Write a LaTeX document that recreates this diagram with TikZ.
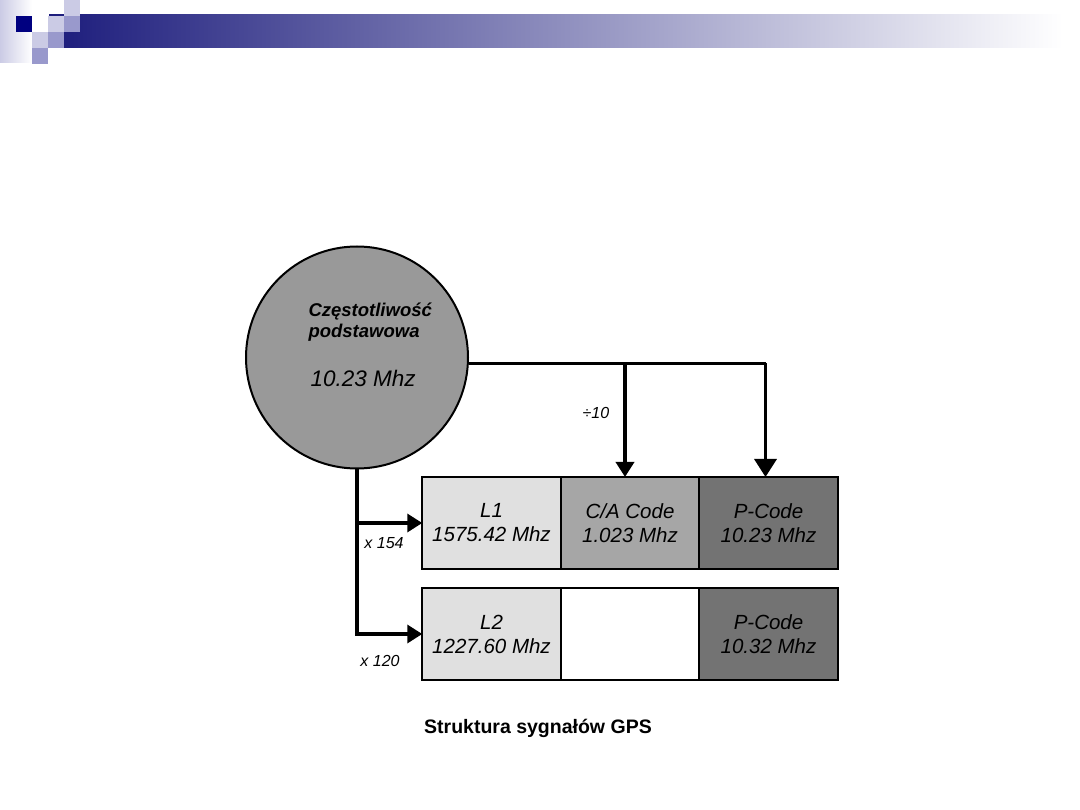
\documentclass[tikz,border=0pt]{standalone}
\usepackage{fontspec}
\setmainfont{Liberation Sans}
\usepackage{tikz}
\usetikzlibrary{arrows.meta,positioning}

\definecolor{navyblk}{HTML}{000080}
\definecolor{barleft}{HTML}{1C1C7C}
\definecolor{barmid}{HTML}{B0B0C6}
\definecolor{lightlav}{HTML}{CBCBE5}
\definecolor{medlav}{HTML}{9999CC}
\definecolor{circgray}{HTML}{999999}
\definecolor{lgray}{HTML}{E0E0E0}
\definecolor{mgray}{HTML}{A6A6A6}
\definecolor{dgray}{HTML}{737373}

\tikzset{
  cell/.style={draw,line width=2pt,outer sep=0pt,minimum width=138.5pt,minimum height=92pt,align=center,
    font=\fontsize{20.5}{24}\selectfont\itshape},
  wire/.style={line width=3.5pt},
  arw/.style={wire,-{Triangle[length=15pt,width=18pt]}},
  lbl/.style={font=\fontsize{16}{18}\selectfont\itshape}
}

\begin{document}
\begin{tikzpicture}[x=1pt,y=-1pt]
\useasboundingbox (0,0) rectangle (1080,810);
% header
\shade[left color=lightlav,right color=white] (0,0) rectangle (32,63);
\shade[left color=barleft,middle color=barmid,right color=white] (49,15) rectangle (1063,48);
\fill[navyblk] (16,16) rectangle (32,32);
\fill[lightlav] (48,16) rectangle (64,32);
\fill[lightlav] (32,32) rectangle (48,48);
\fill[medlav] (48,32) rectangle (64,48);
\fill[medlav] (32,48) rectangle (48,64);
\fill[lightlav] (64,0) rectangle (80,16);
\fill[medlav] (64,16) rectangle (80,32);

% base frequency
\node[circle,draw,line width=2pt,fill=circgray,minimum size=222pt,inner sep=0pt] (base) at (357,357.5) {};
\node[anchor=west,align=left,font=\fontsize{18.5}{21}\selectfont\bfseries\itshape] (btitle) at (305,322) {Częstotliwość\\podstawowa};
\node[anchor=west,font=\fontsize{22.5}{26}\selectfont\itshape] (bfreq) at (307,378) {10.23 Mhz};

% signals
\node[cell,fill=lgray] (l1) at (491.5,523) {L1\\1575.42 Mhz};
\node[cell,fill=mgray,right=0pt of l1] (ca1) {C/A Code\\1.023 Mhz};
\node[cell,fill=dgray,right=0pt of ca1] (p1) {P-Code\\10.23 Mhz};
\node[cell,fill=lgray] (l2) at (491.5,634) {L2\\1227.60 Mhz};
\node[cell,fill=white,right=0pt of l2] (e2) {};
\node[cell,fill=dgray,right=0pt of e2] (p2) {P-Code\\10.32 Mhz};

% connectors
\coordinate (top) at (base.-3);
\coordinate (cain) at ([xshift=-5pt]ca1.north);
\coordinate (pin) at ([xshift=-3pt]p1.north);
\draw[wire] (top) -- (top -| pin);
\draw[arw] (top -| cain) -- (cain);
\draw[arw,-{Triangle[length=18pt,width=22pt]}] (top -| pin) -- (pin);
\draw[arw] (base.south) |- (l2.west);
\draw[arw] (base.south |- l1.west) -- (l1.west);

\node[lbl] (div) at (596,413) {÷10};
\node[lbl] (m154) at (384,543) {x 154};
\node[lbl] (m120) at (380,661) {x 120};

\node[font=\fontsize{19.5}{22}\selectfont\bfseries] (caption) at (538,728) {Struktura sygnałów GPS};
\end{tikzpicture}
\end{document}
